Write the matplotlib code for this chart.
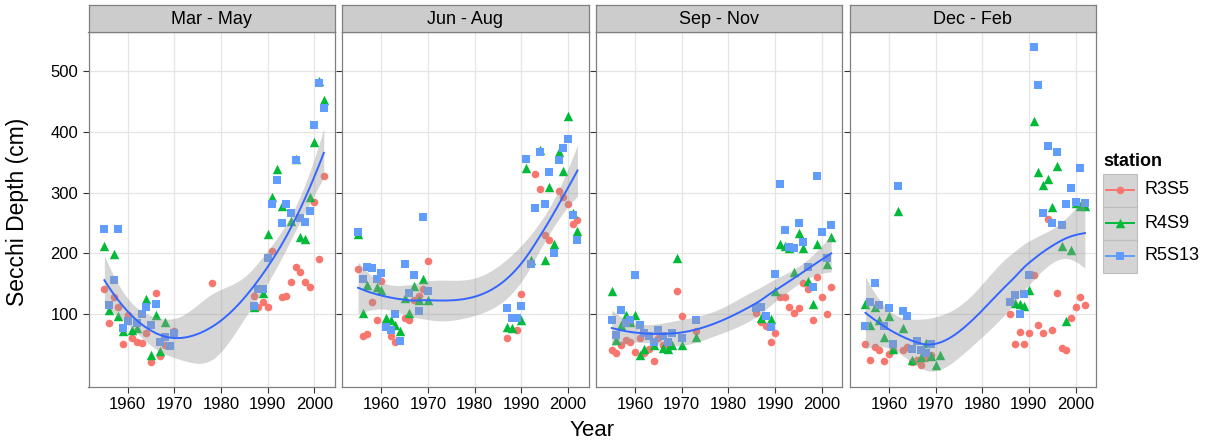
import numpy as np
import matplotlib
matplotlib.use("Agg")
import matplotlib.pyplot as plt
from matplotlib.patches import Rectangle
from matplotlib.lines import Line2D

plt.rcParams['font.family'] = ['Liberation Sans', 'DejaVu Sans']

seasons = ["Mar - May", "Jun - Aug", "Sep - Nov", "Dec - Feb"]
stations = ["R3S5", "R4S9", "R5S13"]
station_colors = ["#F8766D", "#00BA38", "#619CFF"]
station_markers = ["o", "^", "s"]
station_sizes = [30, 46, 40]

# ---- Mar - May ----
mam_r3s5_year = [1955, 1956, 1957, 1958, 1959, 1960, 1961, 1962, 1963, 1964, 1965, 1966, 1967, 1968, 1970, 1978,
                 1987, 1988, 1989, 1990, 1991, 1993, 1994, 1995, 1996, 1997, 1998, 1999, 2000, 2001, 2002]
mam_r3s5_depth = [141, 85, 127, 111, 51, 98, 61, 53, 52, 69, 21, 135, 31, 49, 72, 151,
                  130, 112, 119, 111, 203, 127, 129, 153, 177, 169, 153, 144, 285, 190, 327]
mam_r4s9_year = [1955, 1956, 1957, 1958, 1959, 1961, 1962, 1964, 1965, 1966, 1967, 1968,
                 1987, 1989, 1990, 1991, 1992, 1993, 1995, 1996, 1997, 1998, 1999, 2000, 2001, 2002]
mam_r4s9_depth = [212, 107, 198, 96, 71, 74, 76, 125, 32, 98, 39, 87,
                  112, 135, 232, 293, 338, 278, 253, 355, 226, 223, 292, 384, 484, 452]
mam_r5s13_year = [1955, 1956, 1957, 1958, 1959, 1960, 1962, 1963, 1964, 1965, 1966, 1967, 1968, 1969, 1970,
                  1987, 1988, 1989, 1990, 1991, 1992, 1993, 1994, 1995, 1996, 1997, 1998, 1999, 2000, 2001, 2002]
mam_r5s13_depth = [240, 115, 156, 240, 76, 88, 85, 100, 111, 81, 116, 54, 62, 47, 68,
                   113, 141, 141, 192, 281, 321, 250, 281, 267, 353, 258, 251, 270, 411, 480, 440]

# ---- Jun - Aug ----
jja_r3s5_year = [1955, 1956, 1957, 1958, 1959, 1960, 1962, 1963, 1965, 1966, 1967, 1968, 1969, 1970,
                 1987, 1989, 1990, 1993, 1994, 1995, 1996, 1998, 1999, 2000, 2001, 2002]
jja_r3s5_depth = [174, 64, 67, 120, 90, 155, 64, 54, 93, 90, 123, 129, 141, 187,
                  60, 74, 132, 331, 306, 230, 221, 302, 293, 281, 248, 254]
jja_r4s9_year = [1955, 1956, 1957, 1959, 1960, 1961, 1962, 1963, 1964, 1965, 1966, 1967, 1968, 1969, 1970,
                 1987, 1988, 1990, 1991, 1992, 1994, 1995, 1996, 1997, 1998, 1999, 2000, 2001, 2002]
jja_r4s9_depth = [231, 101, 148, 145, 140, 93, 90, 82, 72, 126, 102, 146, 123, 158, 123,
                  79, 77, 90, 340, 189, 370, 188, 309, 215, 367, 336, 426, 267, 236]
jja_r5s13_year = [1955, 1956, 1957, 1958, 1959, 1960, 1961, 1962, 1963, 1964, 1965, 1966, 1967, 1968, 1969, 1970,
                  1987, 1988, 1989, 1990, 1991, 1992, 1993, 1994, 1995, 1996, 1997, 1998, 1999, 2000, 2001, 2002]
jja_r5s13_depth = [235, 158, 178, 175, 158, 167, 78, 74, 99, 56, 183, 134, 164, 105, 259, 138,
                   109, 93, 93, 113, 356, 182, 274, 366, 281, 333, 200, 354, 373, 389, 263, 221]

# ---- Sep - Nov ----
son_r3s5_year = [1955, 1956, 1957, 1958, 1959, 1960, 1961, 1962, 1963, 1964, 1965, 1966, 1967, 1969, 1970, 1973,
                 1986, 1987, 1988, 1989, 1990, 1991, 1992, 1993, 1994, 1995, 1996, 1997, 1998, 1999, 2000, 2001, 2002]
son_r3s5_depth = [41, 35, 49, 57, 54, 38, 60, 35, 42, 23, 60, 49, 49, 137, 97, 71,
                  101, 87, 80, 54, 68, 127, 127, 112, 101, 109, 151, 141, 90, 160, 127, 100, 144]
son_r4s9_year = [1955, 1956, 1957, 1958, 1959, 1960, 1961, 1962, 1964, 1966, 1967, 1968, 1969, 1970, 1973,
                 1987, 1989, 1990, 1991, 1992, 1993, 1994, 1995, 1996, 1997, 1998, 1999, 2001, 2002]
son_r4s9_depth = [138, 57, 82, 98, 87, 98, 32, 42, 49, 43, 42, 49, 192, 49, 62,
                  93, 91, 138, 215, 212, 208, 169, 234, 208, 155, 116, 215, 183, 226]
son_r5s13_year = [1955, 1956, 1957, 1958, 1959, 1960, 1961, 1962, 1963, 1964, 1965, 1966, 1967, 1968, 1970, 1973,
                  1986, 1987, 1988, 1989, 1990, 1991, 1992, 1993, 1994, 1995, 1996, 1997, 1998, 1999, 2000, 2001, 2002]
son_r5s13_depth = [90, 65, 107, 85, 90, 164, 82, 68, 64, 54, 74, 63, 54, 68, 60, 90,
                   109, 112, 97, 79, 166, 314, 239, 211, 208, 250, 218, 177, 144, 327, 235, 192, 246]

# ---- Dec - Feb ----
djf_r3s5_year = [1955, 1956, 1957, 1958, 1959, 1960, 1961, 1963, 1964, 1965, 1966, 1967, 1968, 1969,
                 1986, 1987, 1988, 1989, 1990, 1991, 1992, 1993, 1994, 1995, 1996, 1997, 1998, 1999, 2000, 2001, 2002]
djf_r3s5_depth = [51, 24, 45, 41, 23, 34, 41, 40, 46, 21, 24, 16, 27, 32,
                  100, 51, 70, 51, 69, 164, 81, 69, 257, 74, 134, 43, 41, 93, 112, 127, 114]
djf_r4s9_year = [1955, 1956, 1957, 1958, 1959, 1960, 1961, 1962, 1963, 1965, 1967, 1968, 1969, 1970, 1971,
                 1987, 1988, 1989, 1990, 1991, 1992, 1993, 1994, 1995, 1996, 1997, 1998, 1999, 2000, 2001, 2002]
djf_r4s9_depth = [116, 82, 112, 90, 62, 97, 42, 269, 76, 24, 29, 52, 31, 16, 32,
                  118, 116, 113, 140, 418, 333, 313, 322, 276, 343, 212, 89, 205, 282, 277, 277]
djf_r5s13_year = [1955, 1956, 1957, 1958, 1959, 1960, 1961, 1962, 1963, 1964, 1965, 1966, 1967, 1968, 1969,
                  1986, 1987, 1988, 1989, 1990, 1991, 1992, 1993, 1994, 1995, 1996, 1997, 1998, 1999, 2000, 2001, 2002]
djf_r5s13_depth = [80, 119, 151, 115, 80, 109, 51, 310, 104, 97, 42, 56, 41, 36, 51,
                   119, 131, 100, 133, 164, 539, 477, 266, 377, 250, 366, 246, 281, 307, 284, 340, 282]

panel_data = [
    [(mam_r3s5_year, mam_r3s5_depth), (mam_r4s9_year, mam_r4s9_depth), (mam_r5s13_year, mam_r5s13_depth)],
    [(jja_r3s5_year, jja_r3s5_depth), (jja_r4s9_year, jja_r4s9_depth), (jja_r5s13_year, jja_r5s13_depth)],
    [(son_r3s5_year, son_r3s5_depth), (son_r4s9_year, son_r4s9_depth), (son_r5s13_year, son_r5s13_depth)],
    [(djf_r3s5_year, djf_r3s5_depth), (djf_r4s9_year, djf_r4s9_depth), (djf_r5s13_year, djf_r5s13_depth)],
]


def loess_smooth(x, y, x_eval, span=0.75, cell=0.2):
    # loess (degree 2, tricube) with kd-tree vertices + cubic hermite interpolation,
    # roughly what R's loess does behind geom_smooth
    n = len(x)
    q = int(np.floor(n * span))

    def local_rows(x0):
        d = np.abs(x - x0)
        h = np.sort(d)[q - 1] * 1.0001
        u = d / h
        w = np.where(u < 1, (1 - u ** 3) ** 3, 0.0)
        X = np.column_stack([np.ones(n), x - x0, (x - x0) ** 2])
        XtW = X.T * w
        B = np.linalg.solve(XtW @ X, XtW)
        return B[0], B[1]

    # build the vertices
    xsort = np.sort(x)
    fc = int(np.floor(n * span * cell))
    mu = 0.005 * (xsort[-1] - xsort[0])
    lo_v, hi_v = xsort[0] - mu, xsort[-1] + mu
    verts = {lo_v, hi_v}

    def split(l, u, a, b):
        if u - l + 1 <= fc:
            return
        m = (l + u + 2) // 2 - 1
        off = 0
        while l <= m + off < u:
            if xsort[m + off] == xsort[m + off + 1]:
                off = -off
                if off >= 0:
                    off += 1
            else:
                m = m + off
                break
        xi = xsort[m]
        if xi == a or xi == b:
            return
        verts.add(xi)
        split(l, m, a, xi)
        split(m + 1, u, xi, b)

    split(0, n - 1, lo_v, hi_v)
    vx = np.array(sorted(verts))
    vrows = [local_rows(v) for v in vx]

    def interp_rows(pts):
        out = []
        for p in pts:
            j = min(max(np.searchsorted(vx, p) - 1, 0), len(vx) - 2)
            h = vx[j + 1] - vx[j]
            t = (p - vx[j]) / h
            h00 = 2 * t ** 3 - 3 * t ** 2 + 1
            h10 = t ** 3 - 2 * t ** 2 + t
            h01 = -2 * t ** 3 + 3 * t ** 2
            h11 = t ** 3 - t ** 2
            out.append(h00 * vrows[j][0] + h10 * h * vrows[j][1]
                       + h01 * vrows[j + 1][0] + h11 * h * vrows[j + 1][1])
        return np.array(out)

    L_eval = interp_rows(x_eval)
    L_data = interp_rows(x)
    fit = L_eval @ y
    R = np.eye(n) - L_data
    RtR = R.T @ R
    d1 = np.trace(RtR)
    d2 = np.trace(RtR @ RtR)
    rss = np.sum((y - L_data @ y) ** 2)
    sigma = np.sqrt(rss / d1)
    se = sigma * np.sqrt((L_eval ** 2).sum(axis=1))
    tval = 1.96 + 2.37 / (d1 ** 2 / d2)
    return fit, fit - tval * se, fit + tval * se


W, H = 1207, 446
fig = plt.figure(figsize=(W / 100, H / 100), dpi=100)

panel_left0 = 88.5
panel_step = 253.7
panel_w = 246.5
panel_top = 31.7
panel_bottom = 386.7
strip_top = 5.0

for i, season in enumerate(seasons):
    left = panel_left0 + i * panel_step
    ax = fig.add_axes([left / W, 1 - panel_bottom / H, panel_w / W, (panel_bottom - panel_top) / H])
    all_x, all_y = [], []
    for (yrs, dep), col, mk, sz in zip(panel_data[i], station_colors, station_markers, station_sizes):
        ax.scatter(yrs, dep, s=sz, c=col, marker=mk, linewidths=0, zorder=2)
        all_x += yrs
        all_y += dep
    xa = np.array(all_x, dtype=float)
    ya = np.array(all_y, dtype=float)
    xs = np.linspace(xa.min(), xa.max(), 80)
    fit, lo, hi = loess_smooth(xa, ya, xs)
    ax.fill_between(xs, lo, hi, color="#999999", alpha=0.4, linewidth=0, zorder=3)
    ax.plot(xs, fit, color="#3366FF", lw=1.4, zorder=4)

    ax.set_xlim(1951.6, 2004.4)
    ax.set_ylim(-20, 565)
    ax.set_xticks([1960, 1970, 1980, 1990, 2000])
    ax.set_yticks([100, 200, 300, 400, 500])
    ax.grid(color="#E5E5E5", lw=0.9)
    ax.set_axisbelow(True)
    for sp in ax.spines.values():
        sp.set_color("#7F7F7F")
        sp.set_linewidth(0.9)
    ax.tick_params(colors="#333333", labelcolor="black", length=4.5, width=0.8,
                   labelsize=12, pad=3)
    if i > 0:
        ax.tick_params(axis="y", labelleft=False)

    # facet strip
    sax = fig.add_axes([left / W, 1 - panel_top / H, panel_w / W, (panel_top - strip_top) / H])
    sax.set_facecolor("#CCCCCC")
    sax.set_xticks([])
    sax.set_yticks([])
    for sp in sax.spines.values():
        sp.set_color("#7F7F7F")
        sp.set_linewidth(0.9)
    sax.text(0.5, 0.47, season, ha="center", va="center", fontsize=13, transform=sax.transAxes)

fig.text(18 / W, 1 - 212 / H, "Secchi Depth (cm)", rotation=90,
         ha="center", va="center", fontsize=16.5)
fig.text((panel_left0 + 3 * panel_step + panel_w + panel_left0) / 2 / W, 1 - 431 / H, "Year",
         ha="center", va="center", fontsize=16)

# legend drawn by hand, ggplot style
lax = fig.add_axes([0, 0, 1, 1], facecolor="none")
lax.set_xlim(0, W)
lax.set_ylim(H, 0)
lax.axis("off")
lax.text(1103, 161, "station", fontsize=13, fontweight="bold", ha="left", va="center")
key_top = 173.5
key_h = 33
for k, (name, col, mk, sz) in enumerate(zip(stations, station_colors, station_markers, station_sizes)):
    y0 = key_top + k * key_h
    lax.add_patch(Rectangle((1103, y0), 34, key_h, facecolor="#D4D4D4", edgecolor="#BDBDBD", lw=0.8))
    yc = y0 + key_h / 2
    lax.add_line(Line2D([1106, 1134], [yc, yc], color=col, lw=1.4))
    lax.scatter([1120], [yc], s=sz, c=col, marker=mk, linewidths=0)
    lax.text(1145, yc, name, fontsize=13, ha="left", va="center")

fig.savefig("out.png", dpi=100)
